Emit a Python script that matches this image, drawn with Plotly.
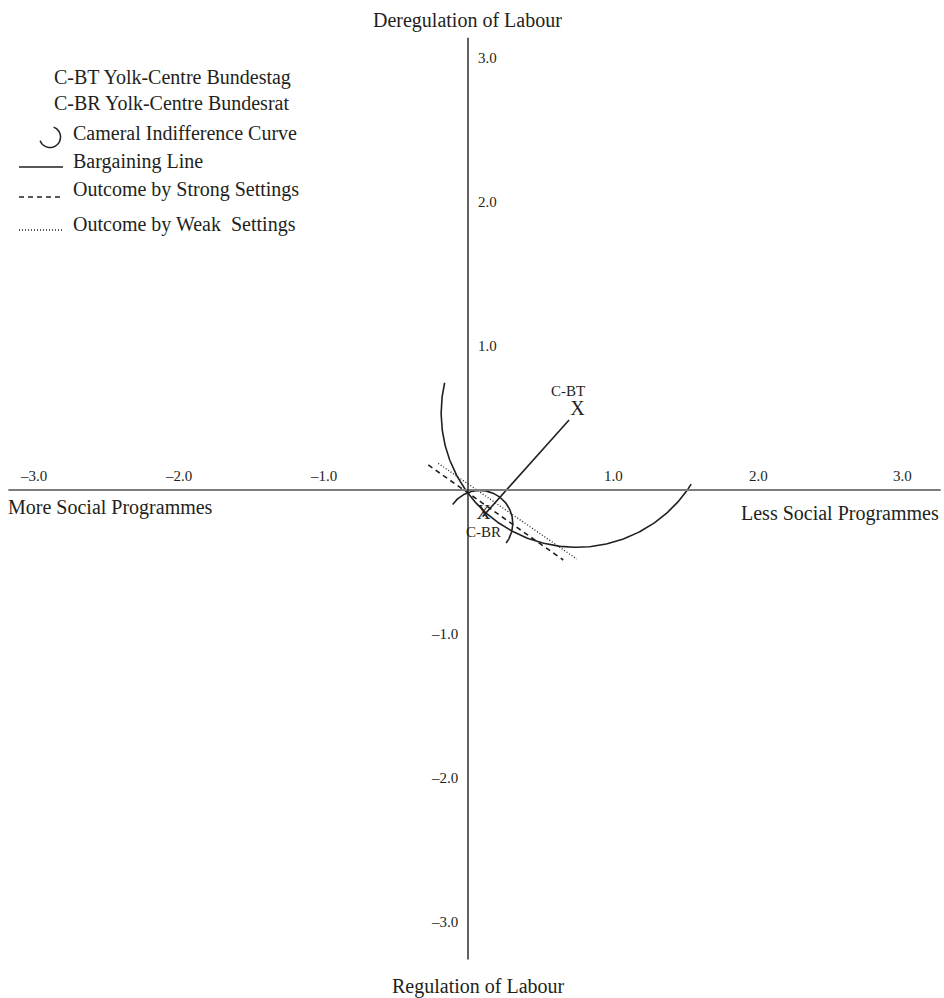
import numpy as np
import plotly.graph_objects as go

# ---- data -------------------------------------------------------------
# Yolk centres of the two chambers
pos_labels = ["C-BT", "C-BR"]
pos_x = [0.755, 0.106]
pos_y = [0.556, -0.167]

# Cameral indifference curves (circular arcs)
ic_cx = [0.748, 0.081]
ic_cy = [0.535, -0.231]
ic_r = [0.933, 0.228]
ic_start_deg = [167.0, 145.0]
ic_end_deg = [328.0, -37.0]

# Bargaining line between the chambers
bargain_x = [0.697, 0.101]
bargain_y = [0.486, -0.185]

# Outcomes
strong_x = [-0.274, 0.657]
strong_y = [0.174, -0.486]
weak_x = [-0.205, 0.750]
weak_y = [0.185, -0.479]

# Axis ticks and extents
tick_vals = [-3.0, -2.0, -1.0, 1.0, 2.0, 3.0]
axis_x_extent = [-3.17, 3.26]
axis_y_extent = [-3.26, 3.14]

legend_items = [
    ("none", "C-BT Yolk-Centre Bundestag"),
    ("none", "C-BR Yolk-Centre Bundesrat"),
    ("arc", "Cameral Indifference Curve"),
    ("solid", "Bargaining Line"),
    ("dash", "Outcome by Strong Settings"),
    ("dot", "Outcome by Weak\u00a0 Settings"),
]

# ---- canvas -----------------------------------------------------------
W, H = 944, 998
X_RANGE = [-3.2276, 3.2828]
Y_RANGE = [-3.5278, 3.4028]
FONT = "Liberation Serif, Times New Roman, serif"
INK = "#231f20"

SOLID = dict(color=INK, width=1.6)
DASHED = dict(color=INK, width=1.6, dash="5px,4px")
DOTTED = dict(color=INK, width=1.3, dash="1px,2px")


def px(x):
    return x / W


def py(y):
    return 1 - y / H


fig = go.Figure()

# indifference curves
for cx, cy, r, a0, a1 in zip(ic_cx, ic_cy, ic_r, ic_start_deg, ic_end_deg):
    t = np.radians(np.linspace(a0, a1, 200))
    fig.add_trace(go.Scatter(x=cx + r * np.cos(t), y=cy + r * np.sin(t),
                             mode="lines", line=SOLID, hoverinfo="skip"))

fig.add_trace(go.Scatter(x=bargain_x, y=bargain_y, mode="lines",
                         line=SOLID, hoverinfo="skip"))
fig.add_trace(go.Scatter(x=strong_x, y=strong_y, mode="lines",
                         line=DASHED, hoverinfo="skip"))
fig.add_trace(go.Scatter(x=weak_x, y=weak_y, mode="lines",
                         line=DOTTED, hoverinfo="skip"))

# X marks for the yolk centres
fig.add_trace(go.Scatter(x=pos_x, y=pos_y, mode="text", text=["X", "X"],
                         textposition="middle center",
                         textfont=dict(family=FONT, size=20, color=INK),
                         hoverinfo="skip"))

shapes = []
annotations = []

# axes through the origin
shapes.append(dict(type="line", xref="x", yref="y", x0=axis_x_extent[0],
                   x1=axis_x_extent[1], y0=0, y1=0,
                   line=dict(color="#7d7d7d", width=2)))
shapes.append(dict(type="line", xref="x", yref="y", x0=0, x1=0,
                   y0=axis_y_extent[0], y1=axis_y_extent[1],
                   line=dict(color=INK, width=1.4)))

# tick labels
tick_font = dict(family=FONT, size=15, color=INK)
for v in tick_vals:
    txt = f"{v:.1f}".replace("-", "\u2013")
    annotations.append(dict(x=v, y=0, xref="x", yref="y", text=txt,
                            showarrow=False, yshift=14, xanchor="center",
                            yanchor="middle", font=tick_font))
    if v > 0:
        annotations.append(dict(x=0, y=v, xref="x", yref="y", text=txt,
                                showarrow=False, xshift=8, xanchor="left",
                                yanchor="middle", font=tick_font))
    else:
        annotations.append(dict(x=0, y=v, xref="x", yref="y", text=txt,
                                showarrow=False, xshift=-8, xanchor="right",
                                yanchor="middle", font=tick_font))

# point labels
annotations.append(dict(x=pos_x[0], y=pos_y[0], xref="x", yref="y",
                        text=pos_labels[0], showarrow=False, xshift=-9,
                        yshift=19, font=dict(family=FONT, size=15, color=INK)))
annotations.append(dict(x=pos_x[1], y=pos_y[1], xref="x", yref="y",
                        text=pos_labels[1], showarrow=False, xshift=0,
                        yshift=-18, font=dict(family=FONT, size=15, color=INK)))

# axis titles
title_font = dict(family=FONT, size=20, color=INK)
annotations += [
    dict(x=px(467), y=py(20), xref="paper", yref="paper",
         text="Deregulation of Labour", showarrow=False, xanchor="center",
         yanchor="middle", font=title_font),
    dict(x=px(478), y=py(986), xref="paper", yref="paper",
         text="Regulation of Labour", showarrow=False, xanchor="center",
         yanchor="middle", font=title_font),
    dict(x=px(6), y=py(508), xref="paper", yref="paper",
         text="More Social Programmes", showarrow=False, xanchor="left",
         yanchor="middle", font=title_font),
    dict(x=px(941), y=py(513), xref="paper", yref="paper",
         text="Less Social Programmes", showarrow=False, xanchor="right",
         yanchor="middle", font=title_font),
]

# legend
legend_rows_y = [77, 103, 133, 161, 190, 224]
for (kind, label), ry in zip(legend_items, legend_rows_y):
    tx = 52 if kind == "none" else 71
    annotations.append(dict(x=px(tx), y=py(ry), xref="paper", yref="paper",
                            text=label, showarrow=False, xanchor="left",
                            yanchor="middle", font=title_font))
    if kind == "arc":
        t = np.radians(np.linspace(70, -160, 40))
        cx, cy, r = 50, 137, 10.5
        pts = [(px(cx + r * np.cos(a)), py(cy - r * np.sin(a))) for a in t]
        path = "M " + " L ".join(f"{a:.5f},{b:.5f}" for a, b in pts)
        shapes.append(dict(type="path", xref="paper", yref="paper", path=path,
                           line=dict(color=INK, width=1.5)))
    elif kind in ("solid", "dash", "dot"):
        sy = {"solid": 167, "dash": 197, "dot": 230}[kind]
        style = {"solid": SOLID, "dash": DASHED, "dot": DOTTED}[kind]
        shapes.append(dict(type="line", xref="paper", yref="paper",
                           x0=px(19), x1=px(63), y0=py(sy), y1=py(sy),
                           line=style))

fig.update_layout(
    width=W, height=H,
    margin=dict(l=0, r=0, t=0, b=0),
    paper_bgcolor="white", plot_bgcolor="white",
    showlegend=False,
    xaxis=dict(range=X_RANGE, visible=False, fixedrange=True),
    yaxis=dict(range=Y_RANGE, visible=False, fixedrange=True),
    shapes=shapes, annotations=annotations,
)

fig.write_html("out.html")
